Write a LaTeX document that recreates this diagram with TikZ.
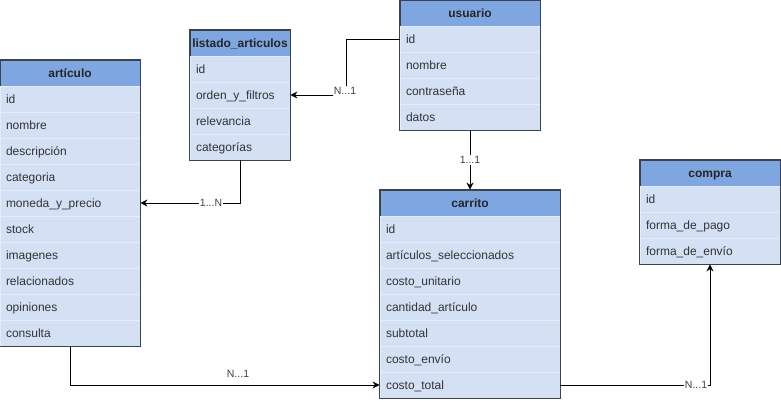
\documentclass[tikz,border=0pt]{standalone}
\usepackage{fontspec}
\setmainfont{Liberation Sans}
\usetikzlibrary{arrows.meta}
\definecolor{hdrfill}{HTML}{7EA6E0}
\definecolor{rowfill}{HTML}{D4E1F5}
\definecolor{rowline}{HTML}{E4ECF8}
\definecolor{tblline}{HTML}{3A4450}
\definecolor{fldtext}{HTML}{333333}
\tikzset{
  hdr/.style={rectangle, draw=tblline, fill=hdrfill, line width=0.8pt, minimum height=26pt, inner sep=0pt, text height=10pt, text depth=2pt, font=\fontsize{12}{14}\selectfont\bfseries, text=black!85},
  fld/.style={rectangle, draw=rowline, fill=rowfill, line width=0.8pt, minimum height=26pt, inner ysep=0pt, inner xsep=6pt, text width=#1, text height=10.5pt, text depth=1.5pt, align=left, font=\fontsize{12}{14}\selectfont, text=fldtext},
  tbl/.style={draw=tblline, line width=0.8pt},
  conn/.style={draw=black, line width=1pt, -{Stealth[length=7pt, width=7pt]}},
  lbl/.style={fill=white, inner sep=1pt, font=\fontsize{10.5}{12}\selectfont, text=black!75}
}
\begin{document}
\begin{tikzpicture}[x=1pt, y=-1pt]
\useasboundingbox (0,0) rectangle (781,402);
% articulo
\node[hdr, minimum width=140pt] (art) at (70,73){artículo};
\node[fld=128pt] (art1) at (70,99){id};
\node[fld=128pt] (art2) at (70,125){nombre};
\node[fld=128pt] (art3) at (70,151){descripción};
\node[fld=128pt] (art4) at (70,177){categoria};
\node[fld=128pt] (art5) at (70,203){moneda\_y\_precio};
\node[fld=128pt] (art6) at (70,229){stock};
\node[fld=128pt] (art7) at (70,255){imagenes};
\node[fld=128pt] (art8) at (70,281){relacionados};
\node[fld=128pt] (art9) at (70,307){opiniones};
\node[fld=128pt] (art10) at (70,333){consulta};
\draw[tbl] (art.north west) rectangle (art10.south east);
% listado_articulos
\node[hdr, minimum width=100pt] (lis) at (240,43){listado\_articulos};
\node[fld=88pt] (lis1) at (240,69){id};
\node[fld=88pt] (lis2) at (240,95){orden\_y\_filtros};
\node[fld=88pt] (lis3) at (240,121){relevancia};
\node[fld=88pt] (lis4) at (240,147){categorías};
\draw[tbl] (lis.north west) rectangle (lis4.south east);
% usuario
\node[hdr, minimum width=140pt] (usu) at (470,13.5){usuario};
\node[fld=128pt] (usu1) at (470,39){id};
\node[fld=128pt] (usu2) at (470,65){nombre};
\node[fld=128pt] (usu3) at (470,91){contraseña};
\node[fld=128pt] (usu4) at (470,117){datos};
\draw[tbl] (usu.north west) rectangle (usu4.south east);
% carrito
\node[hdr, minimum width=180pt] (car) at (470,203){carrito};
\node[fld=168pt] (car1) at (470,229){id};
\node[fld=168pt] (car2) at (470,255){artículos\_seleccionados};
\node[fld=168pt] (car3) at (470,281){costo\_unitario};
\node[fld=168pt] (car4) at (470,307){cantidad\_artículo};
\node[fld=168pt] (car5) at (470,333){subtotal};
\node[fld=168pt] (car6) at (470,359){costo\_envío};
\node[fld=168pt] (car7) at (470,385){costo\_total};
\draw[tbl] (car.north west) rectangle (car7.south east);
% compra
\node[hdr, minimum width=140pt] (com) at (710,173){compra};
\node[fld=128pt] (com1) at (710,199){id};
\node[fld=128pt] (com2) at (710,225){forma\_de\_pago};
\node[fld=128pt] (com3) at (710,251){forma\_de\_envío};
\draw[tbl] (com.north west) rectangle (com3.south east);
% relaciones
\coordinate (k1) at (346,95);
\draw[conn] (usu1.west) -| (k1) -- (lis2.east);
\node[lbl] (l1) at (345,91){N...1};
\draw[conn] (lis4.south) |- (art5.east);
\node[lbl] (l2) at (211,203){1...N};
\draw[conn] (usu4.south) -- (car.north);
\node[lbl] (l3) at (470,160){1...1};
\draw[conn] (art10.south) |- (car7.west);
\node[lbl] (l4) at (238,374){N...1};
\draw[conn] (car7.east) -| (com3.south);
\node[lbl] (l5) at (696,385){N...1};
\end{tikzpicture}
\end{document}
